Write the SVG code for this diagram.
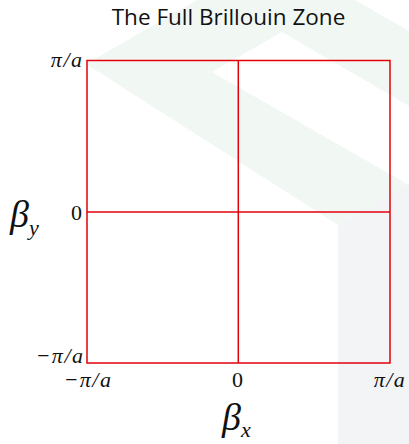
<svg xmlns="http://www.w3.org/2000/svg" width="409" height="444" viewBox="0 0 409 444">
  <style>
    .wm-green { fill: #f1f8f4; }
    .wm-gray { fill: #f3f4f6; }
    .grid { fill: none; stroke: #e2000b; stroke-width: 1.5; }
    .title { font-family: "Open Sans", "Liberation Sans", sans-serif; font-size: 22.5px; fill: #111; }
    .math { font-family: "Liberation Serif", "Times New Roman", serif; font-style: italic; fill: #111; }
    .num { font-family: "Liberation Serif", "Times New Roman", serif; fill: #111; }
    .tick { font-size: 22px; letter-spacing: 1.5px; }
    .beta { font-size: 38px; letter-spacing: 0; }
    .sub { font-size: 22px; letter-spacing: 0; }
  </style>
  <g id="watermark">
    <polygon class="wm-green" points="86,64 197,0 355,0 409,31 409,185 338,225"/>
    <polygon fill="#ffffff" points="212,72 282,32 409,106 409,185"/>
    <polygon class="wm-gray" points="338,225 409,184 409,444 338,444"/>
  </g>
  <g id="title">
    <text class="title" x="228.5" y="25" text-anchor="middle">The Full Brillouin Zone</text>
  </g>
  <g id="zone">
    <rect class="grid" x="87" y="60.5" width="303" height="302.5"/>
    <line class="grid" x1="238.3" y1="60.5" x2="238.3" y2="363"/>
    <line class="grid" x1="87" y1="212" x2="390" y2="212"/>
  </g>
  <g id="y-axis-labels">
    <text class="math tick" x="83.5" y="67" text-anchor="end">π/a</text>
    <text class="num tick" x="83.5" y="220" text-anchor="end">0</text>
    <text class="math tick" x="84.5" y="363" text-anchor="end">−π/a</text>
    <text class="math" x="10" y="227"><tspan class="beta">β</tspan><tspan class="sub" dy="8">y</tspan></text>
  </g>
  <g id="x-axis-labels">
    <text class="math tick" x="88" y="387" text-anchor="middle">−π/a</text>
    <text class="num tick" x="238.3" y="387" text-anchor="middle">0</text>
    <text class="math tick" x="390" y="387" text-anchor="middle">π/a</text>
    <text class="math" x="222" y="430"><tspan class="beta">β</tspan><tspan class="sub" dy="7">x</tspan></text>
  </g>
</svg>
